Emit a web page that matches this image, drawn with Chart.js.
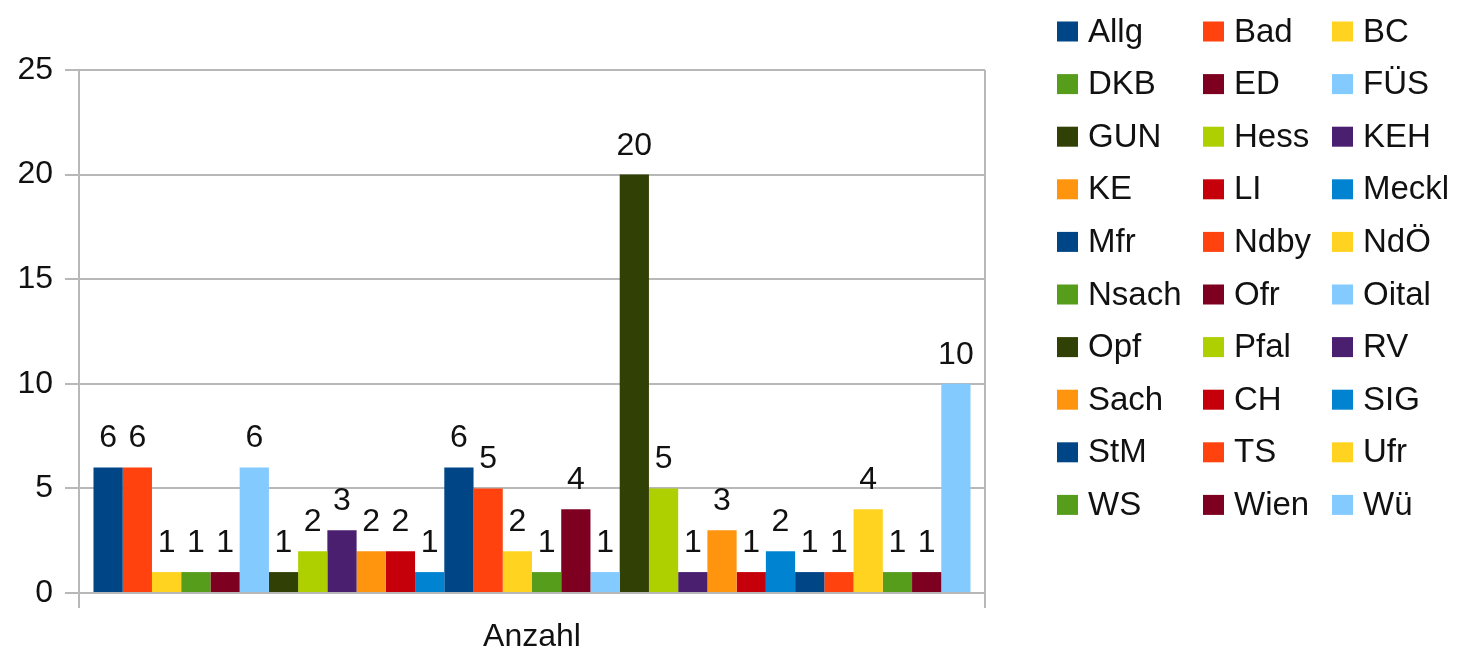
<!DOCTYPE html>
<html>
<head>
<meta charset="utf-8">
<script src="https://cdn.jsdelivr.net/npm/chart.js@4"></script>
<style>
    html, body { margin: 0; padding: 0; background: #fff; }
    #wrap { width: 1457px; height: 654px; position: relative; }
</style>
</head>
<body>
<div id="wrap"><canvas id="chart"></canvas></div>
<script>
const categories = ['Anzahl'];
const seriesNames = ['Allg', 'Bad', 'BC', 'DKB', 'ED', 'FÜS', 'GUN', 'Hess', 'KEH', 'KE', 'LI', 'Meckl',
    'Mfr', 'Ndby', 'NdÖ', 'Nsach', 'Ofr', 'Oital', 'Opf', 'Pfal', 'RV', 'Sach', 'CH', 'SIG',
    'StM', 'TS', 'Ufr', 'WS', 'Wien', 'Wü'];
const seriesValues = [6, 6, 1, 1, 1, 6, 1, 2, 3, 2, 2, 1,
    6, 5, 2, 1, 4, 1, 20, 5, 1, 3, 1, 2,
    1, 1, 4, 1, 1, 10];
const palette = ['#004586', '#ff420e', '#ffd320', '#579d1c', '#7e0021', '#83caff',
    '#314004', '#aecf00', '#4b1f6f', '#ff950e', '#c5000b', '#0084d1'];
const yMax = 25;
const yStep = 5;

const fontFamily = '"Liberation Sans", Arial, sans-serif';
const textColor = '#111';
const gridColor = '#b8b8b8';

// Zahlen über den Balken
const valueLabels = {
    id: 'valueLabels',
    afterDatasetsDraw(chart) {
        const {ctx} = chart;
        ctx.save();
        ctx.font = '32px ' + fontFamily;
        ctx.fillStyle = textColor;
        ctx.textAlign = 'center';
        ctx.textBaseline = 'alphabetic';
        chart.data.datasets.forEach((ds, i) => {
            chart.getDatasetMeta(i).data.forEach((bar, j) => {
                ctx.fillText(ds.data[j], bar.x, bar.y - 20);
            });
        });
        ctx.restore();
    }
};

// Legende rechts, 3 Spalten, zeilenweise gefüllt
const gridLegend = {
    id: 'gridLegend',
    afterDraw(chart) {
        const {ctx} = chart;
        const colX = [1057, 1203, 1332];
        ctx.save();
        ctx.font = '33px ' + fontFamily;
        ctx.textAlign = 'left';
        ctx.textBaseline = 'alphabetic';
        chart.data.datasets.forEach((ds, i) => {
            const x = colX[i % 3];
            const top = 21.5 + Math.floor(i / 3) * 52.6;
            ctx.fillStyle = ds.backgroundColor;
            ctx.fillRect(x, top, 21, 20);
            ctx.fillStyle = textColor;
            ctx.fillText(ds.label, x + 31, top + 20);
        });
        ctx.restore();
    }
};

const datasets = seriesNames.map((name, i) => ({
    label: name,
    data: [seriesValues[i]],
    backgroundColor: palette[i % palette.length],
    borderWidth: 0,
    barPercentage: 1,
    categoryPercentage: 0.968
}));

new Chart(document.getElementById('chart'), {
    type: 'bar',
    data: {labels: categories, datasets},
    options: {
        responsive: true,
        maintainAspectRatio: false,
        animation: false,
        layout: {padding: {top: 70, right: 472, bottom: 0, left: 0}},
        plugins: {
            legend: {display: false},
            tooltip: {enabled: false}
        },
        scales: {
            x: {
                grid: {color: gridColor, lineWidth: 2, tickLength: 15, offset: true},
                border: {color: gridColor, width: 2},
                ticks: {color: textColor, font: {family: fontFamily, size: 32}, padding: 10},
                afterFit: scale => { scale.height = 61; }
            },
            y: {
                min: 0,
                max: yMax,
                grid: {color: gridColor, lineWidth: 2, tickLength: 14},
                border: {color: gridColor, width: 2},
                ticks: {stepSize: yStep, color: textColor, font: {family: fontFamily, size: 32}, padding: 12},
                afterFit: scale => { scale.width = 79; }
            }
        }
    },
    plugins: [valueLabels, gridLegend]
});
</script>
</body>
</html>
